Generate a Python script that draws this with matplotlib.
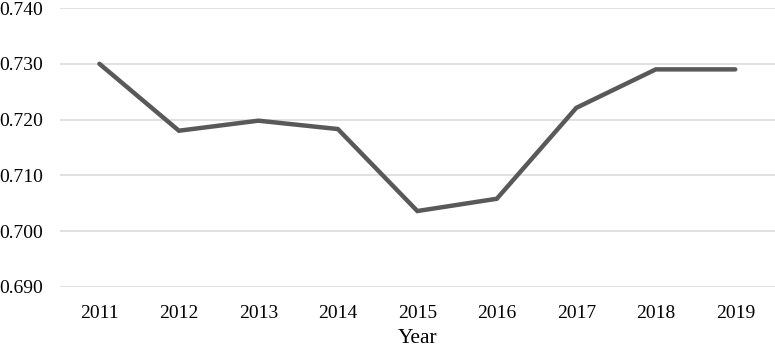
import matplotlib.pyplot as plt
import numpy as np

years = ['2011', '2012', '2013', '2014', '2015', '2016', '2017', '2018', '2019']
values = [0.7300, 0.7180, 0.7198, 0.7183, 0.7036, 0.7058, 0.7221, 0.7290, 0.7290]
yticks = [0.690, 0.700, 0.710, 0.720, 0.730, 0.740]


def main():
    plt.rcParams['font.family'] = ['Liberation Serif', 'DejaVu Serif']
    fig = plt.figure(figsize=(7.75, 3.49), dpi=100)
    ax = fig.add_axes([0.077, 0.178, 0.923, 0.799])

    x = np.arange(len(years))
    ax.plot(x, values, color='#595959', linewidth=3.2, solid_joinstyle='miter',
            solid_capstyle='round')

    ax.set_xlim(-0.5, len(years) - 0.5)
    ax.set_ylim(0.690, 0.740)
    ax.set_yticks(yticks)
    ax.set_yticklabels(['%.3f' % v for v in yticks])
    ax.set_xticks(x)
    ax.set_xticklabels(years)
    ax.grid(axis='y', color='#d9d9d9', linewidth=1.1)
    ax.set_axisbelow(True)
    for s in ax.spines.values():
        s.set_visible(False)
    ax.tick_params(axis='both', length=0, labelsize=14, colors='#000000')
    ax.tick_params(axis='x', pad=13)
    ax.tick_params(axis='y', pad=12)
    ax.set_xlabel('Year', fontsize=15.5, labelpad=5)

    fig.savefig('out.png', dpi=100)


if __name__ == '__main__':
    main()
